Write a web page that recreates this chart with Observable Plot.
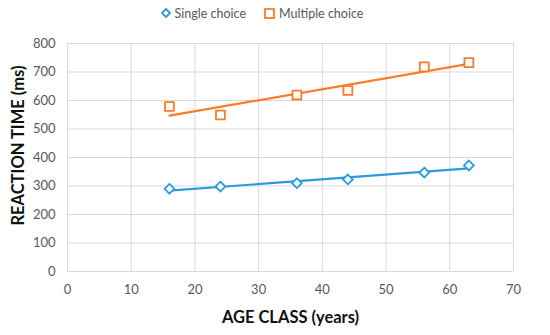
<!DOCTYPE html>
<html>
<head>
<meta charset="utf-8">
<script src="https://cdn.jsdelivr.net/npm/d3@7"></script>
<script src="https://cdn.jsdelivr.net/npm/@observablehq/plot@0.6"></script>
<style>
  body { margin: 0; background: #fff; font-family: Lato, "Open Sans", sans-serif; }
  #legend { height: 26px; display: flex; justify-content: center; align-items: center; gap: 18px; font-size: 12.5px; color: #595959; padding-right: 26px; box-sizing: border-box; }
  #legend span { display: inline-flex; align-items: center; gap: 4px; }
</style>
</head>
<body>
<div id="legend"></div>
<div id="chart"></div>
<script>
const ages = [16, 24, 36, 44, 56, 63];
const singleChoice = [290, 298, 310, 323, 347, 372];
const multipleChoice = [579, 549, 619, 635, 718, 733];
const seriesNames = ["Single choice", "Multiple choice"];
const seriesColors = ["#2a9bdc", "#fb7d2a"];
const xTicks = [0, 10, 20, 30, 40, 50, 60, 70];
const yTicks = [0, 100, 200, 300, 400, 500, 600, 700, 800];

const single = ages.map((a, i) => ({age: a, rt: singleChoice[i]}));
const multiple = ages.map((a, i) => ({age: a, rt: multipleChoice[i]}));

// Legend
const legend = document.getElementById("legend");
legend.innerHTML =
  `<span><svg width="10" height="10"><path d="M5,1 L9,5 L5,9 L1,5 Z" fill="white" stroke="${seriesColors[0]}" stroke-width="1.8"/></svg>${seriesNames[0]}</span>` +
  `<span><svg width="11" height="11"><rect x="1" y="1" width="9" height="9" fill="white" stroke="${seriesColors[1]}" stroke-width="1.8"/></svg>${seriesNames[1]}</span>`;

const chart = Plot.plot({
  width: 550,
  height: 309,
  marginTop: 17,
  marginBottom: 64,
  marginLeft: 67,
  marginRight: 37,
  style: {fontFamily: "Lato, 'Open Sans', sans-serif", fontSize: "13px", color: "#595959", background: "white"},
  x: {domain: [0, 70], ticks: xTicks, tickSize: 0, tickPadding: 12, label: null},
  y: {domain: [0, 800], ticks: yTicks, tickSize: 0, tickPadding: 12, label: null},
  marks: [
    Plot.gridX(xTicks, {stroke: "#d9d9d9", strokeOpacity: 1, strokeWidth: 1}),
    Plot.gridY(yTicks, {stroke: "#d9d9d9", strokeOpacity: 1, strokeWidth: 1}),
    Plot.axisX({ticks: xTicks, tickSize: 0, tickPadding: 13, label: null, fill: "#595959"}),
    Plot.axisY({ticks: yTicks, tickSize: 0, tickPadding: 12, label: null, fill: "#595959"}),
    Plot.linearRegressionY(single, {x: "age", y: "rt", stroke: seriesColors[0], strokeWidth: 2.2, ci: 0}),
    Plot.linearRegressionY(multiple, {x: "age", y: "rt", stroke: seriesColors[1], strokeWidth: 2.2, ci: 0}),
    Plot.dot(single, {x: "age", y: "rt", symbol: "diamond2", r: 4.4, stroke: seriesColors[0], fill: "white", strokeWidth: 1.8}),
    Plot.dot(multiple, {x: "age", y: "rt", symbol: "square", r: 5, stroke: seriesColors[1], fill: "white", strokeWidth: 1.8}),
    Plot.text(["AGE CLASS (years)"], {frameAnchor: "bottom", dy: 51, fontSize: 16.5, fontWeight: "bold", fill: "#111"}),
    Plot.text(["REACTION TIME (ms)"], {frameAnchor: "left", dx: -49, dy: -12, rotate: -90, textAnchor: "middle", fontSize: 16.5, fontWeight: "bold", fill: "#111"})
  ]
});
document.getElementById("chart").appendChild(chart);
</script>
</body>
</html>
